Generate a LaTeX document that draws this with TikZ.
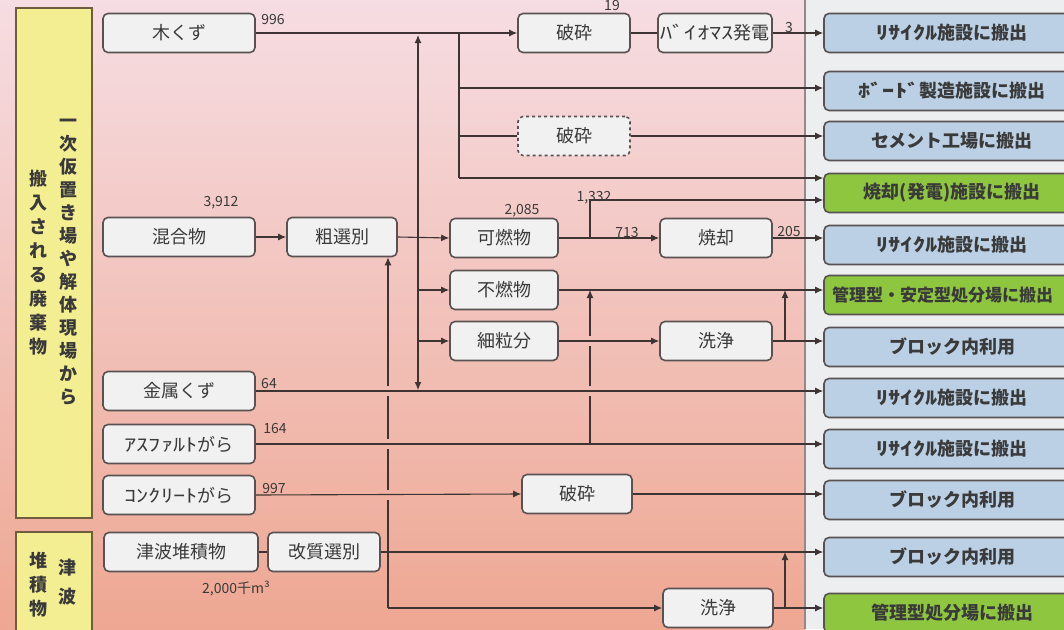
\documentclass[tikz,border=0pt]{standalone}
\usepackage{graphicx}
\usepackage{fontspec}
\newfontfamily\jp{Noto Sans CJK JP}
\newcommand{\hwk}[1]{\scalebox{1.35}[1]{#1}}
\usetikzlibrary{arrows.meta}
\definecolor{pinktop}{HTML}{F6DDE3}
\definecolor{pinkmid}{HTML}{F0C3C6}
\definecolor{pinkbot}{HTML}{EEA792}
\definecolor{rightbg}{HTML}{ECEEF0}
\definecolor{sepline}{HTML}{9A8686}
\definecolor{ybox}{HTML}{F4EE92}
\definecolor{yborder}{HTML}{6E5E3E}
\definecolor{gfill}{HTML}{F1F1F1}
\definecolor{gborder}{HTML}{5A5252}
\definecolor{bfill}{HTML}{BBD0E4}
\definecolor{grfill}{HTML}{8FC640}
\definecolor{lcol}{HTML}{3E3434}
\definecolor{tcol}{HTML}{3A3A3A}
\begin{document}
\begin{tikzpicture}[x=1pt,y=-1pt,
  gbox/.style={draw=gborder, fill=gfill, rounded corners=5pt, line width=1.6pt,
    minimum height=39pt, inner sep=0pt, text=tcol, font=\jp\fontsize{18}{20}\selectfont},
  rbox/.style={draw=gborder, rounded corners=5pt, line width=1.6pt, minimum width=256pt,
    minimum height=39pt, inner sep=0pt, text=tcol, font=\jp\bfseries\fontsize{18}{20}\selectfont},
  rblue/.style={rbox, fill=bfill},
  rgreen/.style={rbox, fill=grfill},
  ybx/.style={draw=yborder, fill=ybox, line width=1.8pt, inner sep=0pt},
  vtext/.style={align=center, inner sep=0pt, text=tcol},
  num/.style={font=\jp\fontsize{14}{15}\selectfont, text=tcol, inner sep=0pt},
  conn/.style={draw=lcol, line width=1.1pt},
  arr/.style={conn, -{Latex[length=8pt,width=7pt]}},
  arrtwo/.style={conn, {Latex[length=8pt,width=7pt]}-{Latex[length=8pt,width=7pt]}},
]
\useasboundingbox (0,0) rectangle (1064,629);
\clip (0,0) rectangle (1064,629);
% backgrounds
\fill[rightbg] (805,0) rectangle (1064,629);
\shade[top color=pinktop, middle color=pinkmid, bottom color=pinkbot] (0,0) rectangle (805,629);
\draw[sepline, line width=1.2pt] (805,0) -- (805,629);

% yellow boxes
\node[ybx, minimum width=76pt, minimum height=510pt] (y1) at (54,263) {};
\node[ybx, minimum width=76pt, minimum height=110pt] (y2) at (54,587) {};
\node[vtext, font=\jp\bfseries\fontsize{18}{23}\selectfont] (vt1) at (68,262)
  {一\\次\\仮\\置\\き\\場\\や\\解\\体\\現\\場\\か\\ら};
\node[vtext, font=\jp\bfseries\fontsize{18}{24}\selectfont] (vt2) at (38,263)
  {搬\\入\\さ\\れ\\る\\廃\\棄\\物};
\node[vtext, font=\jp\bfseries\fontsize{18}{29}\selectfont] (vt3) at (67,582) {津\\波};
\node[vtext, font=\jp\bfseries\fontsize{18}{24}\selectfont] (vt4) at (38,585) {堆\\積\\物};

% gray boxes
\node[gbox, minimum width=152pt] (kuzu) at (179,33) {木くず};
\node[gbox, minimum width=152pt] (kongo) at (179,237) {混合物};
\node[gbox, minimum width=110pt] (sosen) at (342,237) {粗選別};
\node[gbox, minimum width=108pt] (kanen) at (504,238) {可燃物};
\node[gbox, minimum width=108pt] (funen) at (504,290) {不燃物};
\node[gbox, minimum width=108pt] (saiyu) at (504,341) {細粒分};
\node[gbox, minimum width=112pt] (shokyaku) at (716,238) {焼却};
\node[gbox, minimum width=112pt] (senjo1) at (716,341) {洗浄};
\node[gbox, minimum width=152pt] (kinzoku) at (179,391) {金属くず};
\node[gbox, minimum width=152pt] (asph) at (179,444) {\hwk{ｱｽﾌｧﾙﾄ}がら};
\node[gbox, minimum width=152pt] (conc) at (179,495) {\hwk{ｺﾝｸﾘｰﾄ}がら};
\node[gbox, minimum width=154pt] (tsunami) at (181,552) {津波堆積物};
\node[gbox, minimum width=112pt] (kaishitsu) at (324,552) {改質選別};
\node[gbox, minimum width=112pt] (hasai1) at (574,33) {破砕};
\node[gbox, minimum width=114pt] (bio) at (715,33) {\hwk{ﾊﾞｲｵﾏｽ}発電};
\node[gbox, dashed, minimum width=112pt] (hasai2) at (574,136) {破砕};
\node[gbox, minimum width=110pt] (hasai3) at (577,494) {破砕};
\node[gbox, minimum width=110pt] (senjo2) at (718,608) {洗浄};

% right boxes
\node[rblue]  (r1)  at (952,33)  {\hwk{ﾘｻｲｸﾙ}施設に搬出};
\node[rblue]  (r2)  at (952,91)  {\hwk{ﾎﾞｰﾄﾞ}製造施設に搬出};
\node[rblue]  (r3)  at (952,141) {セメント工場に搬出};
\node[rgreen] (r4)  at (952,193) {焼却(発電)施設に搬出};
\node[rblue]  (r5)  at (952,245) {\hwk{ﾘｻｲｸﾙ}施設に搬出};
\node[rgreen, font=\jp\bfseries\fontsize{17}{19}\selectfont] (r6) at (952,295)
  {\hspace*{-19pt}管理型・安定型処分場に搬出};
\node[rblue]  (r7)  at (952,347) {ブロック内利用};
\node[rblue]  (r8)  at (952,398) {\hwk{ﾘｻｲｸﾙ}施設に搬出};
\node[rblue]  (r9)  at (952,449) {\hwk{ﾘｻｲｸﾙ}施設に搬出};
\node[rblue]  (r10) at (952,500) {ブロック内利用};
\node[rblue]  (r11) at (952,557) {ブロック内利用};
\node[rgreen] (r12) at (952,613) {管理型処分場に搬出};

% junction coordinates
\coordinate (ja) at (459,33);
\coordinate (jb) at (459,88);
\coordinate (jc) at (459,136);
\coordinate (jd) at (459,178);
\coordinate (ka) at (418,35);
\coordinate (kb) at (418,390);
\coordinate (m1) at (590,238);
\coordinate (m2) at (590,200);
\coordinate (n1) at (785,341);
\coordinate (s1) at (785,608);
\coordinate (p0) at (590,444);
\coordinate (p1) at (590,396);
\coordinate (p2) at (590,386);
\coordinate (p3) at (590,346);
\coordinate (p4) at (590,336);
\coordinate (q0) at (388,608);
\coordinate (q1) at (388,500);
\coordinate (q2) at (388,490);
\coordinate (q3) at (388,449);
\coordinate (q4) at (388,439);
\coordinate (q5) at (388,396);
\coordinate (q6) at (388,386);

% wood line
\draw[arr] (kuzu.east) -- (hasai1.west);
\draw[conn] (hasai1.east) -- (bio.west);
\draw[arr] (bio.east) -- (r1.west);
\draw[conn] (ja) -- (jd);
\draw[arr] (jb) -- (r2.west |- jb);
\draw[conn] (jc) -- (hasai2.west);
\draw[arr] (hasai2.east) -- (r3.west |- hasai2.east);
\draw[arr] (jd) -- (r4.west |- jd);

% mixed waste
\draw[arr] (kongo.east) -- (sosen.west);
\draw[arrtwo] (ka) -- (kb);
\draw[arr] (sosen.east) -- (kanen.west);
\draw[arr] (ka |- funen.west) -- (funen.west);
\draw[arr] (ka |- saiyu.west) -- (saiyu.west);
\draw[arr] (kanen.east) -- (shokyaku.west);
\draw[arr] (m1) -- (m2) -- (r4.west |- m2);
\draw[arr] (shokyaku.east) -- (r5.west |- shokyaku.east);
\draw[arr] (funen.east) -- (r6.west |- funen.east);
\draw[arr] (saiyu.east) -- (senjo1.west);
\draw[arr] (senjo1.east) -- (r7.west |- senjo1.east);
\draw[arr] (n1) -- (n1 |- funen.east);

% metal, asphalt, concrete
\draw[arr] (kinzoku.east) -- (r8.west |- kinzoku.east);
\draw[arr] (asph.east) -- (r9.west |- asph.east);
\draw[conn] (p0) -- (p1);
\draw[conn] (p2) -- (p3);
\draw[arr] (p4) -- (p4 |- funen.east);
\draw[arr] (conc.east) -- (hasai3.west);
\draw[arr] (hasai3.east) -- (r10.west |- hasai3.east);

% tsunami deposits
\draw[conn] (tsunami.east) -- (kaishitsu.west);
\draw[arr] (kaishitsu.east) -- (r11.west |- kaishitsu.east);
\draw[arr] (q0) -- (senjo2.west);
\draw[conn] (q0) -- (q1);
\draw[conn] (q2) -- (q3);
\draw[conn] (q4) -- (q5);
\draw[arr] (q6) -- (q6 |- sosen.south);
\draw[arr] (senjo2.east) -- (r12.west |- senjo2.east);
\draw[arr] (s1) -- (s1 |- kaishitsu.east);

% quantity labels
\node[num] (l996) at (273,20) {996};
\node[num] (l19) at (612,6) {19};
\node[num] (l3) at (789,28) {3};
\node[num] (l3912) at (221,203) {3,912};
\node[num] (l2085) at (522,211) {2,085};
\node[num] (l1332) at (594,198) {1,332};
\node[num] (l713) at (627,233) {713};
\node[num] (l205) at (789,232) {205};
\node[num] (l64) at (269,384) {64};
\node[num] (l164) at (275,429) {164};
\node[num] (l997) at (274,488) {997};
\node[num] (l2000) at (236,589) {2,000千m³};
\end{tikzpicture}
\end{document}
